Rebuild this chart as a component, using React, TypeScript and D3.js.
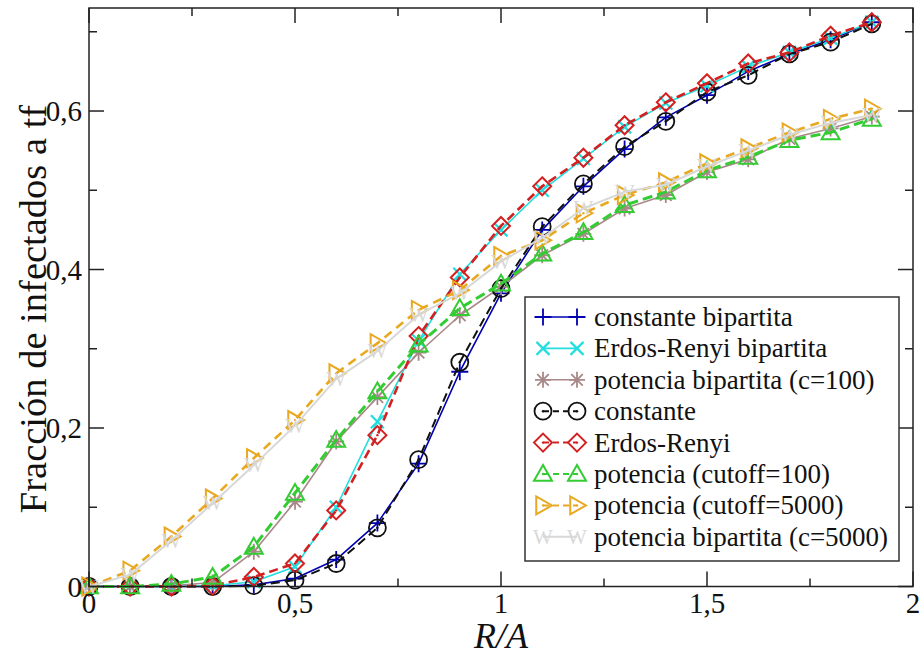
import React from 'react';
import * as d3 from 'd3';

// ---------- data ----------
const rA = [0, 0.1, 0.2, 0.3, 0.4, 0.5, 0.6, 0.7, 0.8, 0.9, 1.0, 1.1, 1.2, 1.3, 1.4, 1.5, 1.6, 1.7, 1.8, 1.9];

const constanteBipartita = [0, 0, 0, 0, 0.002, 0.010, 0.034, 0.080, 0.155, 0.271, 0.370, 0.450, 0.505, 0.552, 0.592, 0.620, 0.650, 0.672, 0.690, 0.712];
const erdosBipartita = [0, 0, 0, 0.001, 0.006, 0.025, 0.100, 0.208, 0.310, 0.394, 0.450, 0.500, 0.540, 0.580, 0.610, 0.632, 0.656, 0.674, 0.692, 0.712];
const potenciaBip100 = [0, 0, 0.001, 0.005, 0.044, 0.107, 0.183, 0.239, 0.295, 0.342, 0.378, 0.418, 0.445, 0.477, 0.494, 0.523, 0.539, 0.565, 0.578, 0.593];
const constante = [0, 0, 0, 0, 0.001, 0.008, 0.029, 0.074, 0.160, 0.283, 0.376, 0.454, 0.508, 0.555, 0.587, 0.624, 0.645, 0.672, 0.687, 0.710];
const erdosRenyi = [0, 0, 0, 0.001, 0.012, 0.029, 0.096, 0.191, 0.316, 0.390, 0.455, 0.505, 0.541, 0.582, 0.611, 0.635, 0.660, 0.674, 0.695, 0.712];
const potencia100 = [0, 0, 0.003, 0.012, 0.050, 0.118, 0.185, 0.246, 0.305, 0.351, 0.382, 0.420, 0.447, 0.481, 0.498, 0.525, 0.542, 0.563, 0.573, 0.590];
const potencia5000 = [0, 0.020, 0.063, 0.111, 0.162, 0.210, 0.269, 0.307, 0.349, 0.374, 0.417, 0.437, 0.471, 0.494, 0.510, 0.534, 0.553, 0.573, 0.590, 0.603];
const potenciaBip5000 = [0, 0.015, 0.058, 0.105, 0.153, 0.203, 0.262, 0.297, 0.343, 0.370, 0.410, 0.440, 0.477, 0.498, 0.507, 0.530, 0.550, 0.570, 0.585, 0.595];

const seriesNames = [
  'constante bipartita',
  'Erdos-Renyi bipartita',
  'potencia bipartita (c=100)',
  'constante',
  'Erdos-Renyi',
  'potencia (cutoff=100)',
  'potencia (cutoff=5000)',
  'potencia bipartita (c=5000)',
];

const xTicks = [0, 0.5, 1, 1.5, 2];
const xTickLabels = ['0', '0,5', '1', '1,5', '2'];
const xMinor = [0.25, 0.75, 1.25, 1.75];
const yTicks = [0, 0.2, 0.4, 0.6];
const yTickLabels = ['0', '0,2', '0,4', '0,6'];
const yMinor = [0.1, 0.3, 0.5, 0.7];

// ---------- layout ----------
const W = 921, H = 654;
const L = 89, R = 913, T = 8, B = 586.5;
const FONT = '"Liberation Serif", serif';
const fontStyle = (size: number, italic = false): React.CSSProperties => ({
  fontFamily: FONT,
  fontSize: `${size}px`,
  fontStyle: italic ? 'italic' : 'normal',
});

const x = d3.scaleLinear().domain([0, 2]).range([L, R]);
const y = d3.scaleLinear().domain([0, 0.73]).range([B, T]);

type Marker = 'plus' | 'x' | 'star' | 'circle' | 'diamond' | 'triUp' | 'triRight' | 'W';

const styles: { color: string; dash: string | null; width: number; marker: Marker; mw: number }[] = [
  { color: '#0000b0', dash: null, width: 1.6, marker: 'plus', mw: 1.8 },
  { color: '#22dede', dash: null, width: 1.6, marker: 'x', mw: 2.2 },
  { color: '#a88888', dash: null, width: 1.6, marker: 'star', mw: 1.8 },
  { color: '#111111', dash: '9,5', width: 2, marker: 'circle', mw: 1.8 },
  { color: '#d42020', dash: '9,5', width: 2.6, marker: 'diamond', mw: 2 },
  { color: '#33cc33', dash: '10,5', width: 3, marker: 'triUp', mw: 2 },
  { color: '#e8a820', dash: '9,6', width: 2.6, marker: 'triRight', mw: 2 },
  { color: '#d8d8d8', dash: null, width: 2, marker: 'W', mw: 1.5 },
];

const seriesValues = [constanteBipartita, erdosBipartita, potenciaBip100, constante, erdosRenyi, potencia100, potencia5000, potenciaBip5000];

function markerEl(m: Marker, cx: number, cy: number, color: string, sw: number, key: string) {
  const common = { fill: 'none', stroke: color, strokeWidth: sw } as any;
  switch (m) {
    case 'plus': {
      const s = 8.5;
      return <path key={key} d={`M${cx - s},${cy}H${cx + s}M${cx},${cy - s}V${cy + s}`} {...common} />;
    }
    case 'x': {
      const s = 6.5;
      return <path key={key} d={`M${cx - s},${cy - s}L${cx + s},${cy + s}M${cx - s},${cy + s}L${cx + s},${cy - s}`} {...common} />;
    }
    case 'star': {
      const s = 8;
      const d = s * 0.72;
      return <path key={key} d={`M${cx - s},${cy}H${cx + s}M${cx},${cy - s}V${cy + s}M${cx - d},${cy - d}L${cx + d},${cy + d}M${cx - d},${cy + d}L${cx + d},${cy - d}`} {...common} />;
    }
    case 'circle':
      return (
        <g key={key}>
          <circle cx={cx} cy={cy} r={8.5} {...common} />
          <circle cx={cx} cy={cy} r={1.2} fill={color} />
        </g>
      );
    case 'diamond': {
      const s = 9;
      return (
        <g key={key}>
          <path d={`M${cx},${cy - s}L${cx + s},${cy}L${cx},${cy + s}L${cx - s},${cy}Z`} {...common} />
          <circle cx={cx} cy={cy} r={1.2} fill={color} />
        </g>
      );
    }
    case 'triUp': {
      const s = 9;
      return (
        <g key={key}>
          <path d={`M${cx},${cy - s}L${cx + s},${cy + s * 0.75}L${cx - s},${cy + s * 0.75}Z`} {...common} />
          <circle cx={cx} cy={cy} r={1.2} fill={color} />
        </g>
      );
    }
    case 'triRight': {
      const s = 9;
      return (
        <g key={key}>
          <path d={`M${cx + s},${cy}L${cx - s * 0.75},${cy + s}L${cx - s * 0.75},${cy - s}Z`} {...common} />
          <circle cx={cx} cy={cy} r={1.2} fill={color} />
        </g>
      );
    }
    case 'W':
      return (
        <text key={key} x={cx} y={cy + 7} textAnchor="middle" style={fontStyle(21)} fill={color}>W</text>
      );
  }
}

export default function App() {
  const line = d3.line<number>().x((_, i) => x(rA[i])).y((v) => y(v));

  const tickLines: React.ReactElement[] = [];
  xTicks.forEach((t, i) => {
    tickLines.push(<line key={`xb${i}`} x1={x(t)} x2={x(t)} y1={B} y2={B - 15} />);
    tickLines.push(<line key={`xt${i}`} x1={x(t)} x2={x(t)} y1={T} y2={T + 15} />);
  });
  xMinor.forEach((t, i) => {
    tickLines.push(<line key={`xbm${i}`} x1={x(t)} x2={x(t)} y1={B} y2={B - 8} />);
    tickLines.push(<line key={`xtm${i}`} x1={x(t)} x2={x(t)} y1={T} y2={T + 8} />);
  });
  yTicks.forEach((t, i) => {
    tickLines.push(<line key={`yl${i}`} x1={L} x2={L + 15} y1={y(t)} y2={y(t)} />);
    tickLines.push(<line key={`yr${i}`} x1={R} x2={R - 15} y1={y(t)} y2={y(t)} />);
  });
  yMinor.forEach((t, i) => {
    tickLines.push(<line key={`ylm${i}`} x1={L} x2={L + 8} y1={y(t)} y2={y(t)} />);
    tickLines.push(<line key={`yrm${i}`} x1={R} x2={R - 8} y1={y(t)} y2={y(t)} />);
  });

  const legX = 525, legY = 297, legW = 374, legH = 264;
  const rowY0 = 317, rowStep = 31.4;

  return (
    <svg width={W} height={H} style={{ position: 'absolute', left: 0, top: 0, background: '#fff' }}>
      <rect x={0} y={0} width={W} height={H} fill="#fff" />
      <defs>
        <clipPath id="plotClip">
          <rect x={L - 12} y={T} width={R - L + 12} height={B - T + 12} />
        </clipPath>
      </defs>

      {/* series */}
      <g clipPath="url(#plotClip)">
        {seriesValues.map((vals, si) => {
          const st = styles[si];
          return (
            <g key={si}>
              <path d={line(vals) || ''} fill="none" stroke={st.color} strokeWidth={st.width}
                strokeDasharray={st.dash || undefined} strokeLinejoin="round" />
              {vals.map((v, i) => markerEl(st.marker, x(rA[i]), y(v), st.color, st.mw, `m${si}-${i}`))}
            </g>
          );
        })}
      </g>

      {/* frame and ticks */}
      <rect x={L} y={T} width={R - L} height={B - T} fill="none" stroke="#222" strokeWidth={1.5} />
      <g stroke="#222" strokeWidth={1.5}>{tickLines}</g>

      {/* tick labels */}
      <g fill="#111">
        {xTicks.map((t, i) => (
          <text key={`xl${i}`} x={x(t)} y={613} textAnchor="middle" style={fontStyle(29)}>{xTickLabels[i]}</text>
        ))}
        {yTicks.map((t, i) => (
          <text key={`yl${i}`} x={L - 7} y={y(t) + 10} textAnchor="end" style={fontStyle(29)}>{yTickLabels[i]}</text>
        ))}
      </g>

      {/* axis titles */}
      <text x={x(1)} y={648} textAnchor="middle" style={fontStyle(36, true)} fill="#111">R/A</text>
      <text transform={`translate(46,${309}) rotate(-90)`} textAnchor="middle" style={fontStyle(38.5)} fill="#111">
        Fracción de infectados a tf
      </text>

      {/* legend */}
      <rect x={legX} y={legY} width={legW} height={legH} fill="#fff" stroke="#333" strokeWidth={1.5} />
      {seriesNames.map((name, i) => {
        const st = styles[i];
        const cy = rowY0 + i * rowStep;
        const x1 = 543, x2 = 577;
        return (
          <g key={`leg${i}`}>
            <line x1={x1} x2={x2} y1={cy} y2={cy} stroke={st.color} strokeWidth={st.width > 2 ? 2 : st.width}
              strokeDasharray={st.dash ? '6,4' : undefined} />
            {markerEl(st.marker, x1, cy, st.color, st.mw, `lm1-${i}`)}
            {markerEl(st.marker, x2, cy, st.color, st.mw, `lm2-${i}`)}
            <text x={594} y={cy + 9} style={fontStyle(27)} fill="#111">{name}</text>
          </g>
        );
      })}
    </svg>
  );
}
